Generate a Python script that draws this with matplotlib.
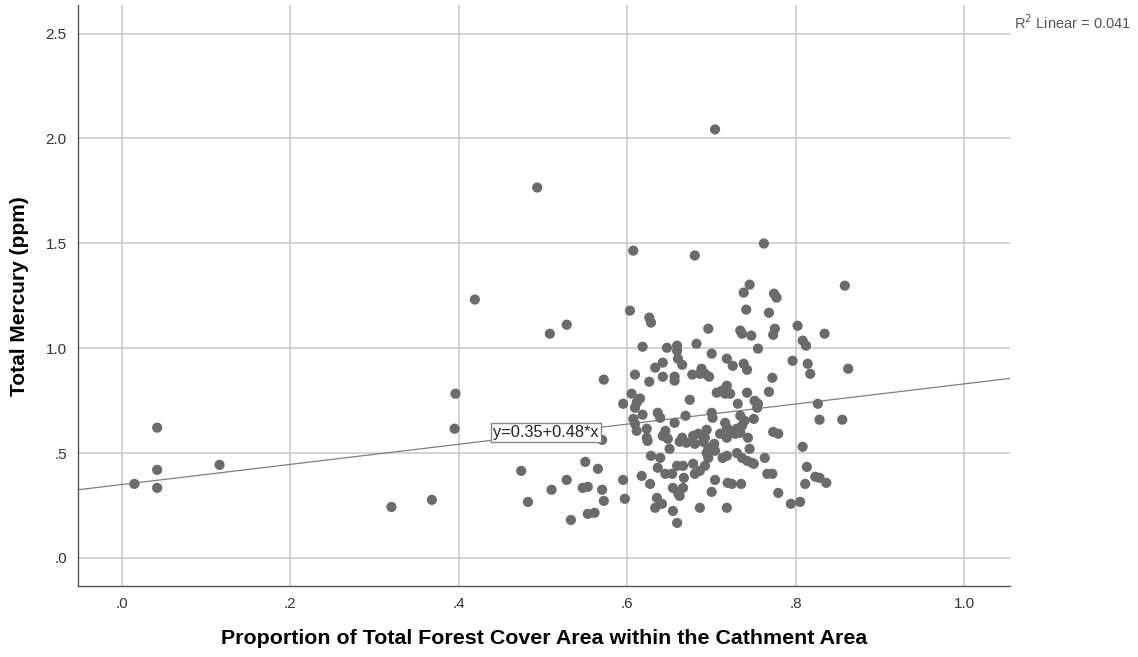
import numpy as np
import matplotlib
matplotlib.use('Agg')
import matplotlib.pyplot as plt

plt.rcParams['font.family'] = ['Liberation Sans', 'DejaVu Sans']

# forest cover proportion (x) and total mercury in ppm (y)
forest = [0.015, 0.042, 0.042, 0.042, 0.116, 0.320, 0.368, 0.396, 0.395, 0.419,
          0.493, 0.508, 0.528, 0.474, 0.482, 0.510, 0.528, 0.533, 0.550, 0.547,
          0.553, 0.565, 0.553, 0.561, 0.570, 0.572, 0.570, 0.572, 0.595, 0.597,
          0.704, 0.607, 0.680, 0.762, 0.603, 0.626, 0.628, 0.696, 0.745, 0.738,
          0.774, 0.777, 0.858, 0.741, 0.768, 0.734, 0.736, 0.747, 0.775, 0.773,
          0.802, 0.834, 0.808, 0.812, 0.755, 0.618, 0.647, 0.659, 0.659, 0.682,
          0.700, 0.718, 0.660, 0.665, 0.642, 0.633, 0.609, 0.626, 0.642, 0.656,
          0.656, 0.677, 0.688, 0.692, 0.697, 0.686, 0.605, 0.595, 0.611, 0.609,
          0.674, 0.706, 0.712, 0.718, 0.716, 0.618, 0.636, 0.639, 0.607, 0.609,
          0.611, 0.656, 0.669, 0.700, 0.701, 0.716, 0.718, 0.623, 0.623, 0.624,
          0.645, 0.642, 0.648, 0.665, 0.678, 0.684, 0.694, 0.692, 0.710, 0.680,
          0.696, 0.725, 0.738, 0.742, 0.796, 0.814, 0.817, 0.862, 0.772, 0.768,
          0.722, 0.742, 0.731, 0.751, 0.755, 0.754, 0.826, 0.734, 0.739, 0.750,
          0.722, 0.730, 0.736, 0.728, 0.734, 0.718, 0.743, 0.828, 0.855, 0.773,
          0.779, 0.745, 0.808, 0.617, 0.627, 0.628, 0.639, 0.636, 0.645, 0.653,
          0.659, 0.666, 0.667, 0.678, 0.654, 0.660, 0.666, 0.662, 0.635, 0.633,
          0.641, 0.654, 0.659, 0.686, 0.680, 0.686, 0.692, 0.696, 0.694, 0.704,
          0.700, 0.704, 0.713, 0.718, 0.719, 0.718, 0.736, 0.742, 0.748, 0.750,
          0.763, 0.766, 0.772, 0.724, 0.735, 0.779, 0.794, 0.805, 0.813, 0.823,
          0.828, 0.836, 0.811, 0.662, 0.670, 0.690, 0.703, 0.650, 0.730, 0.615]
mercury = [0.353, 0.621, 0.420, 0.334, 0.444, 0.243, 0.277, 0.783, 0.616, 1.232,
           1.766, 1.069, 1.112, 0.415, 0.267, 0.325, 0.372, 0.181, 0.458, 0.334,
           0.339, 0.425, 0.210, 0.215, 0.325, 0.272, 0.563, 0.850, 0.372, 0.282,
           2.043, 1.465, 1.442, 1.499, 1.179, 1.146, 1.122, 1.093, 1.303, 1.265,
           1.260, 1.241, 1.298, 1.184, 1.169, 1.084, 1.069, 1.060, 1.093, 1.064,
           1.107, 1.069, 1.036, 1.012, 0.998, 1.007, 1.002, 1.012, 0.988, 1.021,
           0.974, 0.950, 0.950, 0.921, 0.931, 0.907, 0.874, 0.840, 0.864, 0.864,
           0.845, 0.874, 0.902, 0.878, 0.864, 0.878, 0.783, 0.735, 0.740, 0.716,
           0.754, 0.788, 0.797, 0.821, 0.783, 0.683, 0.692, 0.668, 0.663, 0.640,
           0.606, 0.644, 0.678, 0.692, 0.668, 0.644, 0.621, 0.616, 0.573, 0.558,
           0.606, 0.582, 0.568, 0.573, 0.582, 0.592, 0.611, 0.573, 0.592, 0.544,
           0.525, 0.916, 0.926, 0.897, 0.940, 0.926, 0.878, 0.902, 0.859, 0.792,
           0.783, 0.788, 0.735, 0.749, 0.735, 0.716, 0.735, 0.678, 0.654, 0.663,
           0.606, 0.616, 0.630, 0.592, 0.597, 0.573, 0.573, 0.659, 0.659, 0.601,
           0.592, 0.520, 0.530, 0.391, 0.353, 0.487, 0.477, 0.430, 0.401, 0.401,
           0.439, 0.439, 0.382, 0.449, 0.334, 0.310, 0.334, 0.296, 0.286, 0.239,
           0.258, 0.224, 0.167, 0.239, 0.401, 0.415, 0.439, 0.477, 0.501, 0.511,
           0.315, 0.372, 0.477, 0.487, 0.358, 0.239, 0.477, 0.463, 0.453, 0.449,
           0.477, 0.401, 0.401, 0.353, 0.353, 0.310, 0.258, 0.267, 0.434, 0.387,
           0.382, 0.358, 0.353, 0.554, 0.549, 0.554, 0.544, 0.520, 0.500, 0.760]

intercept = 0.35
slope = 0.48
r2 = 0.041

x_ticks = [0.0, 0.2, 0.4, 0.6, 0.8, 1.0]
x_labels = ['.0', '.2', '.4', '.6', '.8', '1.0']
y_ticks = [0.0, 0.5, 1.0, 1.5, 2.0, 2.5]
y_labels = ['.0', '.5', '1.0', '1.5', '2.0', '2.5']

fig = plt.figure(figsize=(11.38, 6.57), dpi=100)
ax = fig.add_axes([0.0685, 0.108, 0.819, 0.884])

xlo, xhi = -0.052, 1.054
ax.set_xlim(xlo, xhi)
ax.set_ylim(-0.134, 2.635)

ax.grid(True, color='#c8c8c8', lw=1.1)
ax.set_axisbelow(True)
for side in ['top', 'right']:
    ax.spines[side].set_visible(False)
for side in ['left', 'bottom']:
    ax.spines[side].set_color('#555555')
    ax.spines[side].set_linewidth(1.0)

ax.scatter(forest, mercury, s=54, color='#6b6b6b', edgecolors='none', zorder=3)

# fit line over the whole axis
xs = np.array([xlo, xhi])
ax.plot(xs, intercept + slope * xs, color='#7f7f7f', lw=0.9, zorder=2)

ax.text(0.441, 0.598, 'y=0.35+0.48*x', fontsize=11.8, color='#222222',
        ha='left', va='center', zorder=4,
        bbox=dict(boxstyle='square,pad=0.15', fc='white', ec='#888888', lw=1.0))

ax.set_xticks(x_ticks)
ax.set_xticklabels(x_labels)
ax.set_yticks(y_ticks)
ax.set_yticklabels(y_labels)
ax.tick_params(length=0, labelsize=11, colors='#333333', pad=8)

ax.set_xlabel('Proportion of Total Forest Cover Area within the Cathment Area',
              fontsize=15.4, fontweight='bold', labelpad=13)
ax.set_ylabel('Total Mercury (ppm)', fontsize=15, fontweight='bold', labelpad=12)

fig.text(0.891, 0.966, 'R$^2$ Linear = 0.041', fontsize=10.5, color='#555555',
         ha='left', va='center')

fig.savefig('out.png', dpi=100)
